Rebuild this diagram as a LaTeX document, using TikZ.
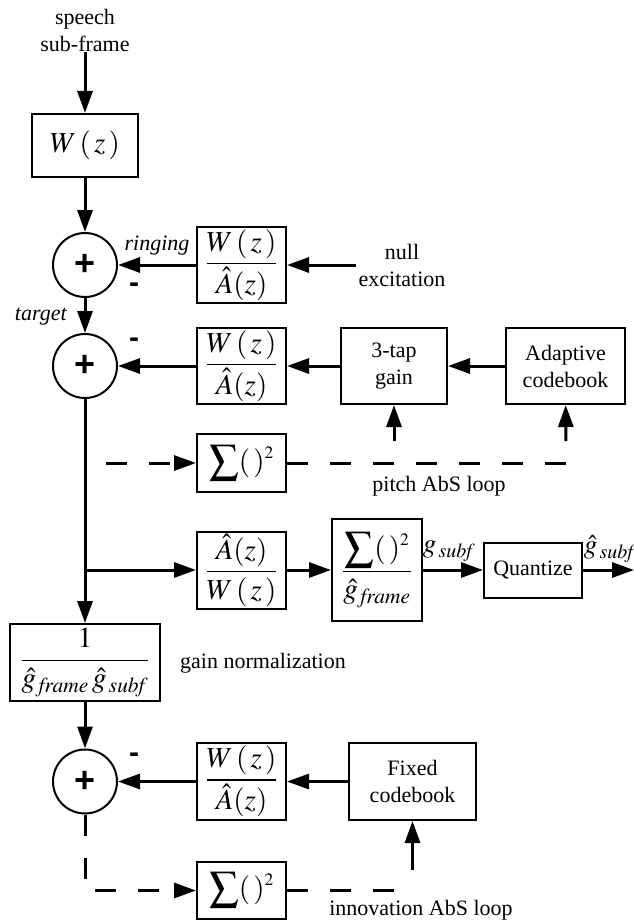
\documentclass[tikz,border=0pt]{standalone}
\usepackage{mathptmx}
\usepackage[no-math]{fontspec}
\setmainfont{Liberation Serif}
\newfontfamily\plusfont{Liberation Sans}
\usetikzlibrary{arrows.meta}

\newcommand{\wbya}{$\displaystyle\frac{W\,(\,z\,)}{\hat{A}(z)}$}
\newcommand{\abyw}{$\displaystyle\frac{\hat{A}(z)}{W\,(\,z\,)}$}
\newcommand{\sqsum}{$\displaystyle\sum(\,)^{\scriptscriptstyle 2}$}

\begin{document}
\begin{tikzpicture}[x=1pt,y=-1pt,
    every node/.style={font=\fontsize{22}{27}\selectfont},
    blk/.style={draw,line width=2pt,inner sep=0pt,minimum width=89pt,minimum height=76pt,align=center},
    mblk/.style={blk,font=\fontsize{29}{34}\selectfont},
    mlbl/.style={font=\fontsize{27}{32}\selectfont},
    adder/.style={draw,circle,line width=2pt,inner sep=0pt,minimum size=64pt,font=\plusfont\bfseries\fontsize{36}{36}\selectfont},
    negsign/.style={inner sep=0pt,font=\plusfont\bfseries\fontsize{30}{30}\selectfont},
    sig/.style={line width=3pt,-{Triangle[length=22pt,width=15pt]}},
    absloop/.style={sig,dash pattern=on 21pt off 22pt}]
  \useasboundingbox (0,0) rectangle (634,923);
  \draw
    (85,30) node[align=center,inner sep=1pt] (speech){speech\\sub-frame}
    (85,145.5) node[mblk,minimum width=106pt,minimum height=63pt] (wz){$W\,(\,z\,)$}
    (85,265) node[adder] (sum1){+}
    (241.5,265) node[mblk] (ringf){\wbya}
    (402,265) node[align=center,inner sep=2pt] (nullx){null\\excitation}
    (157,246) node (ring){\textit{ringing}}
    (41,317) node (tgt){\textit{target}}
    (85,366) node[adder] (sum2){+}
    (241.5,366) node[mblk] (synf){\wbya}
    (394,366) node[blk,minimum width=106pt] (tap){3-tap\\gain}
    (565.5,366) node[blk,minimum width=119pt] (adcb){Adaptive\\codebook}
    (241.5,463) node[mblk,minimum height=58pt] (sqp){\sqsum}
    (439,486) node (pitch){pitch AbS loop}
    (241.5,570) node[mblk,minimum height=77pt] (invf){\abyw}
    (377,570) node[mblk,minimum width=90pt,minimum height=102pt] (gnorm){$\displaystyle\frac{\displaystyle\sum(\,)^{\scriptscriptstyle 2}}{\hat{g}_{\,\mathit{frame}}}$}
    (449,551) node[mlbl] (gsub){$g_{\,\mathit{subf}}$}
    (533,570) node[blk,minimum width=98pt,minimum height=55pt] (quant){Quantize}
    (610,549) node[mlbl] (gq){$\hat{g}_{\,\mathit{subf}}$}
    (85,662.5) node[mblk,minimum width=150pt,minimum height=77pt] (gn){$\displaystyle\frac{1}{\hat{g}_{\,\mathit{frame}}\,\hat{g}_{\,\mathit{subf}}}$}
    (263,663) node (gnl){gain normalization}
    (85,781.5) node[adder] (sum3){+}
    (241.5,781.5) node[mblk,minimum height=77pt] (synf2){\wbya}
    (412.5,781.5) node[blk,minimum width=127pt,minimum height=77pt] (fxcb){Fixed\\codebook}
    (241.5,890.5) node[mblk,minimum height=57pt] (sqi){\sqsum}
    (421,910) node (innov){innovation AbS loop}
    (134,288) node[negsign] (n1){-}
    (134,343) node[negsign] (n2){-}
    (134,758) node[negsign] (n3){-};
  \coordinate (brn) at (85,570);
  \coordinate (pa) at (106,463);
  \coordinate (pb) at (566,463);
  \coordinate (pc) at (394,463);
  \coordinate (qo) at (634,570);
  \coordinate (ic) at (412.5,890.5);
  \begin{scope}[sig]
    \draw (speech) to (wz);
    \draw (wz) to (sum1);
    \draw (ringf) to (sum1);
    \draw (nullx) to (ringf);
    \draw (sum1) to (sum2);
    \draw (synf) to (sum2);
    \draw (tap) to (synf);
    \draw (adcb) to (tap);
    \draw (sum2) to (gn);
    \draw (brn) to (invf);
    \draw (invf) to (gnorm);
    \draw (gnorm) to (quant);
    \draw (quant) to (qo);
    \draw (gn) to (sum3);
    \draw (synf2) to (sum3);
    \draw (fxcb) to (synf2);
  \end{scope}
  \begin{scope}[absloop]
    \draw (pa) to (sqp);
    \draw[-] (sqp) to (pb);
    \draw[dash phase=21pt] (pc) to (tap);
    \draw[dash phase=21pt] (pb) to (adcb);
    \draw (sum3) |- (sqi);
    \draw[-] (sqi) to (ic);
    \draw[dash pattern=on 0pt off 21pt on 40pt] (ic) to (fxcb);
  \end{scope}
\end{tikzpicture}
\end{document}
